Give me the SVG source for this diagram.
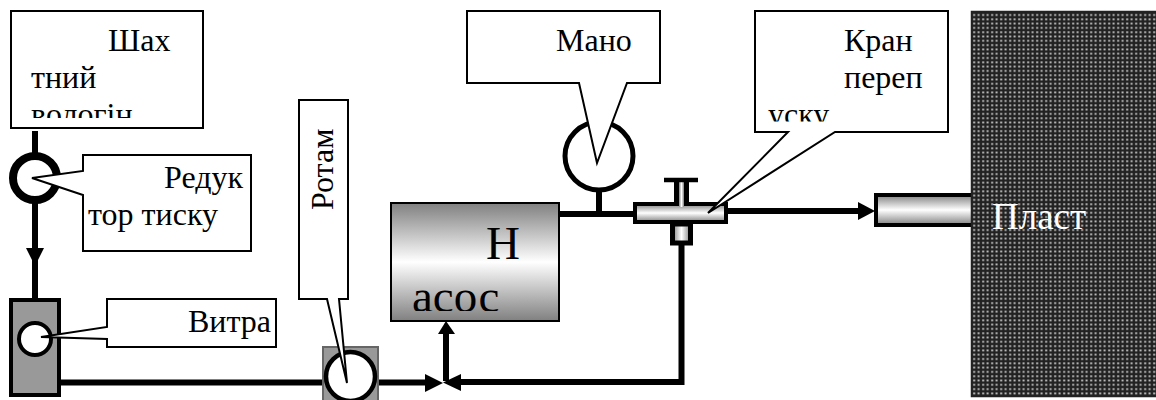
<svg xmlns="http://www.w3.org/2000/svg" width="1156" height="400" viewBox="0 0 1156 400">
<style>
text{font-family:"Liberation Serif","Times New Roman",serif;font-size:32px;fill:#000}
.call{fill:#fff;stroke:#000;stroke-width:2}
.pipe{fill:none;stroke:#000;stroke-width:6}
.big{font-size:47px}
</style>
<defs>
<linearGradient id="g" x1="0" y1="0" x2="0" y2="1"><stop offset="0" stop-color="#808080"/><stop offset=".5" stop-color="#fff"/><stop offset="1" stop-color="#808080"/></linearGradient>
<linearGradient id="gh" x1="0" y1="0" x2="1" y2="0"><stop offset="0" stop-color="#808080"/><stop offset=".5" stop-color="#fff"/><stop offset="1" stop-color="#808080"/></linearGradient>
<pattern id="dots" width="4.500" height="4.300" patternUnits="userSpaceOnUse"><rect width="4.500" height="4.300" fill="#222"/><rect x="1.200" y="1.200" width="1.900" height="1.800" fill="#ccc"/></pattern>
<clipPath id="c1"><rect x="12" y="12" width="190" height="106"/></clipPath>
<clipPath id="c2"><rect x="756" y="12" width="190" height="109.500"/></clipPath>
<clipPath id="c3"><rect x="391" y="204" width="168" height="107"/></clipPath>
</defs>
<g id="connectors">
<path class="pipe" d="M35 131V298"/>
<path d="M26 248H44L35 266Z"/>
<path class="pipe" d="M60 382.500H323"/>
<path class="pipe" d="M375 382.500H428"/><path d="M425 374L443 383L425 392Z"/>
<path class="pipe" d="M681.500 245V382H460"/><path d="M461 374L443 382.500L461 391Z"/>
<path class="pipe" d="M446 381V330"/><path d="M446 321L455 334H438Z"/>
<path class="pipe" d="M559 214H636"/>
<path class="pipe" d="M599 190V214"/>
<path class="pipe" d="M726 211H860"/><path d="M858 202L875 211L858 220Z"/>
</g>
<g id="shakh"><rect class="call" x="11" y="11" width="192" height="117"/>
<g clip-path="url(#c1)"><text x="108" y="51">Шах</text><text x="31" y="88">тний</text><text x="31" y="125">вологін</text></g></g>
<g id="reduktor"><circle cx="35" cy="178" r="22" fill="#fff" stroke="#000" stroke-width="8"/>
<path class="call" d="M83 155H251V251H83V195L32 178L83 171Z"/>
<text x="164" y="188">Редук</text><text x="88" y="225">тор тиску</text></g>
<g id="vytra"><rect x="11" y="300" width="48" height="95" fill="#999" stroke="#000" stroke-width="4"/><circle cx="35" cy="339" r="16" fill="#fff" stroke="#000" stroke-width="4"/>
<path class="call" d="M107 299H276V347H107V339L41 337L107 327Z"/><text x="188" y="332">Витра</text></g>
<g id="rotam"><rect x="323" y="347" width="55" height="54" fill="#999" stroke="#666" stroke-width="2"/><circle cx="350.500" cy="376.500" r="24.500" fill="#fff" stroke="#000" stroke-width="4.500"/>
<path class="call" d="M299 100H348V299H339L347 383L327 299H299Z"/><text transform="translate(333 210) rotate(-90)">Ротам</text></g>
<g id="nasos"><rect x="391" y="203" width="168" height="118" fill="url(#g)" stroke="#000" stroke-width="2"/>
<g clip-path="url(#c3)"><text class="big" x="486" y="259">Н</text><text class="big" x="412" y="312">асос</text></g></g>
<g id="mano"><circle cx="599" cy="156" r="34" fill="#fff" stroke="#000" stroke-width="5"/>
<path class="call" d="M467 11H660V83H627L597 163L579 83H467Z"/><text x="556" y="51">Мано</text></g>
<g id="kran"><rect x="635" y="204" width="91" height="18" fill="url(#g)" stroke="#000" stroke-width="4"/>
<rect x="679" y="180" width="5" height="27" fill="url(#gh)"/><path d="M664 180H698" stroke="#000" stroke-width="4.500"/><path d="M676.500 180V204M686.500 180V204" stroke="#000" stroke-width="5"/>
<rect x="672.500" y="224" width="18" height="19" fill="url(#gh)" stroke="#000" stroke-width="5"/>
<path class="call" d="M755 11H948V132H835L708 213L788 132H755Z"/>
<g clip-path="url(#c2)"><text x="844" y="51">Кран</text><text x="844" y="88">переп</text><text x="768" y="125">уску</text></g></g>
<g id="outlet"><rect x="876" y="195" width="100" height="30" fill="url(#g)" stroke="#000" stroke-width="4"/></g>
<g id="plast"><rect x="971.500" y="11.500" width="190" height="385" fill="url(#dots)" stroke="#222" stroke-width="1.500"/><text x="992" y="229" style="fill:#fff;font-size:37px">Пласт</text></g>
</svg>
